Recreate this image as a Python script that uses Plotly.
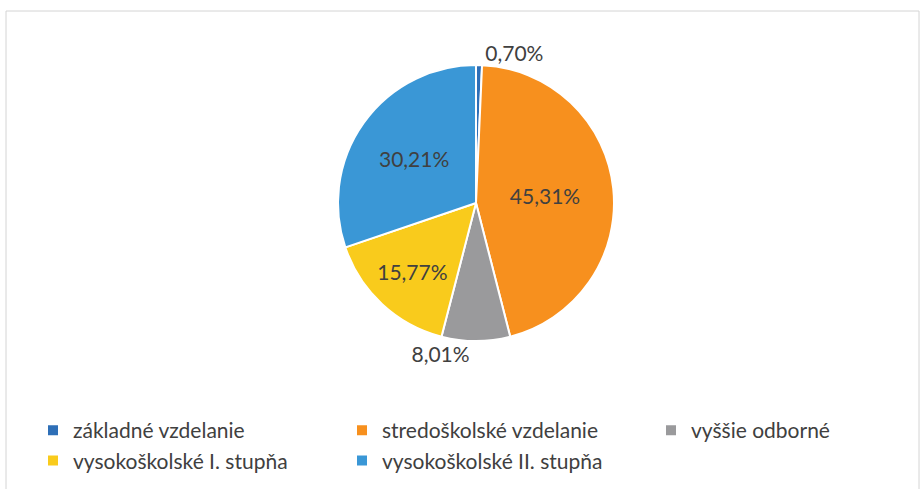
import plotly.graph_objects as go

labels = ['základné vzdelanie', 'stredoškolské vzdelanie', 'vyššie odborné',
          'vysokoškolské I. stupňa', 'vysokoškolské II. stupňa']
values = [0.70, 45.31, 8.01, 15.77, 30.21]
colors = ['#2E6FB7', '#F7901E', '#9A9A9C', '#F9CB1C', '#3A97D6']
text_pos = ['outside', 'inside', 'outside', 'inside', 'inside']

W, H = 924, 489

fig = go.Figure()
fig.add_trace(go.Pie(
    labels=labels, values=values, sort=False, direction='clockwise', rotation=0,
    marker=dict(colors=colors, line=dict(color='white', width=2)),
    texttemplate='%{percent:.2%}', textposition=text_pos,
    insidetextorientation='horizontal',
    textfont=dict(family='Lato', size=21, color='#404040'),
    domain=dict(x=[338 / W, 614 / W], y=[1 - 341 / H, 1 - 65 / H]),
    hoverinfo='label+percent',
))

# rámik grafu
fig.add_shape(type='rect', xref='paper', yref='paper',
              x0=6 / W, x1=919 / W, y0=-0.05, y1=1 - 11 / H,
              line=dict(color='#D4D4D4', width=1))

fig.update_layout(
    width=W, height=H, separators=', ',
    paper_bgcolor='white', plot_bgcolor='white',
    margin=dict(l=0, r=0, t=0, b=0, autoexpand=False),
    font=dict(family='Lato', size=21, color='#404040'),
    legend=dict(orientation='h', x=33 / W, y=1 - 410 / H, xanchor='left', yanchor='top',
                entrywidth=264, entrywidthmode='pixels', traceorder='normal',
                bgcolor='rgba(0,0,0,0)',
                font=dict(family='Lato', size=21, color='#404040')),
)

# bez okraja stránky, aby graf sedel presne v okne
fig.write_html("out.html", config={'displayModeBar': False},
               post_script="document.body.style.margin='0';")
